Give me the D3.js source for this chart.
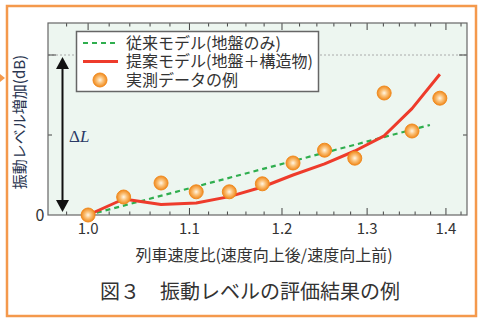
<!DOCTYPE html>
<html><head><meta charset="utf-8">
<script src="https://cdn.jsdelivr.net/npm/d3@7/dist/d3.min.js"></script>
<style>
body{margin:0;background:#fff;}
text{font-family:"Noto Sans CJK JP","Noto Sans",sans-serif;}
</style></head>
<body><svg id="c" width="484" height="323"></svg>
<script>
const speedRatio = [1.0, 1.034, 1.071, 1.107, 1.142, 1.178, 1.2125, 1.249, 1.285, 1.321, 1.356, 1.392];
const measured   = [0, 0.225, 0.40, 0.29, 0.29, 0.39, 0.65, 0.81, 0.71, 1.525, 1.05, 1.46];
const proposed   = [0, 0.2, 0.13, 0.15, 0.23, 0.35, 0.5, 0.64, 0.8, 0.99, 1.33, 1.76];
const convX = [1.0, 1.379];
const convY = [0, 1.125];
const xMajor = [1.0, 1.1, 1.2, 1.3, 1.4];
const xMinor = [0.98, 1.02, 1.04, 1.06, 1.08, 1.12, 1.14, 1.16, 1.18, 1.22, 1.24, 1.26, 1.28, 1.32, 1.34, 1.36, 1.38, 1.42];
const yTicks = [0, 1, 2];
const deltaLevel = 2;
const legendLabels = ["従来モデル(地盤のみ)", "提案モデル(地盤＋構造物)", "実測データの例"];

const svg = d3.select("#c");
const L=48, R=467, T=23, B=215;
const x = d3.scaleLog().domain([0.963, 1.428]).range([L, R]);
const y = d3.scaleLinear().domain([0, 2.4]).range([B, T]);

// outer frame
svg.append("rect").attr("x",7).attr("y",6).attr("width",469).attr("height",310)
  .attr("fill","none").attr("stroke","#f4994c").attr("stroke-width",2.5);
svg.append("path").attr("d","M0,74 L5,78 L0,82 Z").attr("fill","#f4994c");

const defs = svg.append("defs");
const rg = defs.append("radialGradient").attr("id","dot").attr("cx","50%").attr("cy","50%").attr("r","50%");
rg.append("stop").attr("offset","0%").attr("stop-color","#fff6e6");
rg.append("stop").attr("offset","45%").attr("stop-color","#fbc27a");
rg.append("stop").attr("offset","100%").attr("stop-color","#f0891c");
defs.append("clipPath").attr("id","pc").append("rect").attr("x",L).attr("y",T).attr("width",R-L).attr("height",B-T);

// plot background
svg.append("rect").attr("x",L).attr("y",T).attr("width",R-L).attr("height",B-T).attr("fill","#edf6f0");

// dotted grid line at ΔL
svg.append("line").attr("x1",L).attr("x2",R).attr("y1",y(deltaLevel)).attr("y2",y(deltaLevel))
  .attr("stroke","#999").attr("stroke-width",0.8).attr("stroke-dasharray","2,2");

// axes ticks (inward)
function xTicks(yPos, dir){
  const g = svg.append("g");
  g.selectAll(".mj").data(xMajor).join("line").attr("x1",d=>x(d)).attr("x2",d=>x(d))
    .attr("y1",yPos).attr("y2",yPos+dir*7).attr("stroke","#444").attr("stroke-width",1);
  g.selectAll(".mn").data(xMinor).join("line").attr("x1",d=>x(d)).attr("x2",d=>x(d))
    .attr("y1",yPos).attr("y2",yPos+dir*3.5).attr("stroke","#444").attr("stroke-width",1);
}
xTicks(B,-1); xTicks(T,1);
[L,R].forEach((xp,i)=>{
  const dir = i===0?1:-1;
  svg.selectAll(null).data(yTicks.slice(1)).join("line")
    .attr("x1",xp).attr("x2",d=>xp+dir*(d===2?8:4)).attr("y1",d=>y(d)).attr("y2",d=>y(d))
    .attr("stroke","#444").attr("stroke-width",1);
});

// x tick labels
svg.selectAll(".xl").data(xMajor).join("text").attr("x",d=>x(d)).attr("y",234)
  .attr("text-anchor","middle").attr("font-size",15).attr("fill","#333").text(d=>d.toFixed(1));
svg.append("text").attr("x",40).attr("y",221).attr("text-anchor","middle").attr("font-size",16).attr("fill","#333").text("0");

// plot border
svg.append("rect").attr("x",L).attr("y",T).attr("width",R-L).attr("height",B-T)
  .attr("fill","none").attr("stroke","#666").attr("stroke-width",1.2);

// lines
const line = d3.line().x(d=>x(d[0])).y(d=>y(d[1]));
const pg = svg.append("g").attr("clip-path","url(#pc)");
pg.append("path").datum(d3.zip(convX,convY)).attr("d",line).attr("fill","none")
  .attr("stroke","#2fae4e").attr("stroke-width",2.2).attr("stroke-dasharray","5,4");
pg.append("path").datum(d3.zip(speedRatio,proposed)).attr("d",line).attr("fill","none")
  .attr("stroke","#ee3b2b").attr("stroke-width",3).attr("stroke-linejoin","round");
svg.selectAll(".pt").data(d3.zip(speedRatio,measured)).join("circle")
  .attr("cx",d=>x(d[0])).attr("cy",d=>y(d[1])).attr("r",7)
  .attr("fill","url(#dot)").attr("stroke","#f08a1e").attr("stroke-width",1);

// ΔL arrow
const ax = 62.5;
svg.append("line").attr("x1",ax).attr("x2",ax).attr("y1",y(deltaLevel)+10).attr("y2",B-12)
  .attr("stroke","#111").attr("stroke-width",2);
svg.append("path").attr("d",`M${ax},${y(deltaLevel)+2} L${ax-6.5},${y(deltaLevel)+14} L${ax+6.5},${y(deltaLevel)+14} Z`).attr("fill","#111");
svg.append("path").attr("d",`M${ax},${B-3} L${ax-6.5},${B-15} L${ax+6.5},${B-15} Z`).attr("fill","#111");
const dl = svg.append("text").attr("x",69).attr("y",142).attr("font-size",17)
  .attr("fill","#2a3a66").style("font-family","'Liberation Serif','DejaVu Serif',serif");
dl.append("tspan").text("Δ");
dl.append("tspan").attr("font-style","italic").text("L");

// legend
svg.append("rect").attr("x",76.5).attr("y",31.5).attr("width",242).attr("height",60)
  .attr("fill","#fff").attr("stroke","#666").attr("stroke-width",1.5);
const ly = [43, 61.5, 80];
svg.append("line").attr("x1",83).attr("x2",118).attr("y1",ly[0]).attr("y2",ly[0])
  .attr("stroke","#2fae4e").attr("stroke-width",2.2).attr("stroke-dasharray","5,4");
svg.append("line").attr("x1",83).attr("x2",118).attr("y1",ly[1]).attr("y2",ly[1])
  .attr("stroke","#ee3b2b").attr("stroke-width",3);
svg.append("circle").attr("cx",100).attr("cy",ly[2]).attr("r",7)
  .attr("fill","url(#dot)").attr("stroke","#f08a1e").attr("stroke-width",1);
svg.selectAll(".lg").data(legendLabels).join("text").attr("x",126).attr("y",(d,i)=>ly[i]+5.5)
  .attr("font-size",16).attr("fill","#333").text(d=>d);

// axis titles
svg.append("text").attr("transform","translate(25,122) rotate(-90)").attr("text-anchor","middle")
  .attr("font-size",15).attr("fill","#2a3550").text("振動レベル増加(dB)");
svg.append("text").attr("x",264).attr("y",261).attr("text-anchor","middle")
  .attr("font-size",16).attr("fill","#333").text("列車速度比(速度向上後/速度向上前)");
svg.append("text").attr("x",250).attr("y",299).attr("text-anchor","middle")
  .attr("font-size",20).attr("fill","#333").text("図３　振動レベルの評価結果の例");
</script></body></html>
